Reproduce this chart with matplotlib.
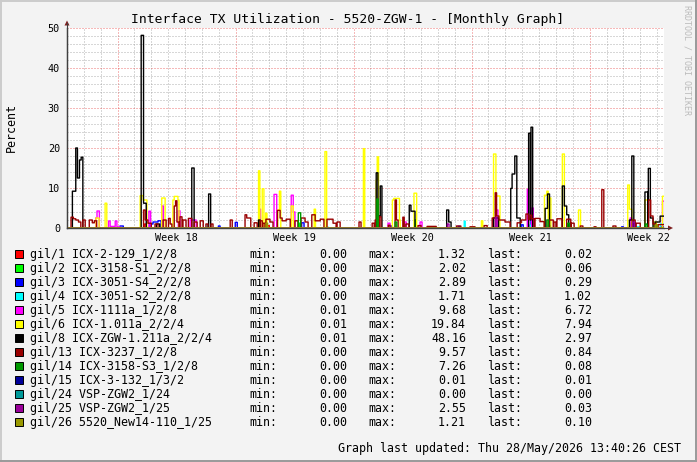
import numpy as np
import matplotlib
matplotlib.use("Agg")
import matplotlib.pyplot as plt
from matplotlib.lines import Line2D
from matplotlib.patches import Polygon, Rectangle
from matplotlib.ticker import MultipleLocator, FixedLocator

plt.rcParams["font.family"] = ["DejaVu Sans Mono"]

W, H = 697, 462
T_END = 35.41  # days on the x axis

title = "Interface TX Utilization - 5520-ZGW-1 - [Monthly Graph]"
week_bounds = [3, 10, 17, 24, 31]
week_label_pos = [6.5, 13.5, 20.5, 27.5, 34.5]
week_labels = ["Week 18", "Week 19", "Week 20", "Week 21", "Week 22"]
y_ticks = [0, 10, 20, 30, 40, 50]

labels = ["gil/1 ICX-2-129_1/2/8", "gil/2 ICX-3158-S1_2/2/8", "gil/3 ICX-3051-S4_2/2/8",
          "gil/4 ICX-3051-S2_2/2/8", "gil/5 ICX-1111a_1/2/8", "gil/6 ICX-1.011a_2/2/4",
          "gil/8 ICX-ZGW-1.211a_2/2/4", "gil/13 ICX-3237_1/2/8", "gil/14 ICX-3158-S3_1/2/8",
          "gil/15 ICX-3-132_1/3/2", "gil/24 VSP-ZGW2_1/24", "gil/25 VSP-ZGW2_1/25",
          "gil/26 5520_New14-110_1/25"]
colors = ["#FF0000", "#00FF00", "#0000FF", "#00FFFF", "#FF00FF", "#FFFF00", "#000000",
          "#990000", "#009900", "#000099", "#009999", "#990099", "#999900"]
mins = ["0.00", "0.00", "0.00", "0.00", "0.01", "0.01", "0.01", "0.00", "0.00", "0.00", "0.00", "0.00", "0.00"]
maxs = ["1.32", "2.02", "2.89", "1.71", "9.68", "19.84", "48.16", "9.57", "7.26", "0.01", "0.00", "2.55", "1.21"]
lasts = ["0.02", "0.06", "0.29", "1.02", "6.72", "7.94", "2.97", "0.84", "0.08", "0.01", "0.00", "0.03", "0.10"]

# (start day, end day, percent); everything else is ~0
seg_gi1_1 = [(4.60, 4.70, 1.0), (11.90, 12.00, 0.6), (18.45, 18.52, 1.32), (27.55, 27.62, 0.8),
             (33.60, 33.70, 0.5), (35.30, 35.41, 0.02)]
seg_gi1_2 = [(13.75, 13.82, 1.2), (20.62, 20.70, 2.02), (28.52, 28.60, 1.5), (34.90, 35.00, 0.8),
             (35.30, 35.41, 0.06)]
seg_gi1_3 = [(3.14, 3.34, 0.5), (4.92, 5.10, 1.0), (5.10, 5.40, 1.5), (5.40, 5.58, 1.8),
             (8.97, 9.07, 0.5), (9.98, 10.10, 1.4), (13.92, 14.06, 1.3), (19.20, 19.30, 0.5),
             (23.20, 23.30, 0.4), (25.40, 25.50, 0.3), (26.93, 27.05, 0.8), (27.52, 27.60, 2.89),
             (28.50, 28.65, 0.6), (32.90, 33.00, 0.3), (33.47, 33.59, 1.2), (35.20, 35.41, 0.29)]
seg_gi1_4 = [(8.29, 8.38, 0.6), (15.40, 15.50, 0.2), (23.55, 23.62, 1.71), (27.40, 27.50, 0.7),
             (33.75, 33.95, 0.3), (35.20, 35.41, 1.02)]
seg_gi1_5 = [(1.70, 1.78, 2.5), (1.78, 1.92, 4.25), (2.45, 2.55, 1.75), (2.55, 2.85, 0.4),
             (2.85, 2.95, 1.75), (2.95, 3.14, 0.3), (4.86, 4.96, 4.2), (5.62, 5.71, 5.5),
             (6.60, 6.70, 4.3), (7.30, 7.65, 2.0), (11.40, 11.48, 4.7), (12.28, 12.44, 8.4),
             (13.29, 13.42, 8.2), (13.42, 13.52, 4.0), (19.04, 19.16, 1.2), (19.99, 20.11, 1.5),
             (20.94, 21.06, 1.5), (25.45, 25.55, 4.5), (27.30, 27.37, 9.68), (27.55, 27.65, 5.0),
             (28.45, 28.60, 2.0), (33.40, 33.50, 2.5), (35.32, 35.41, 6.72)]
seg_gi1_6 = [(1.72, 1.90, 2.5), (2.25, 2.35, 6.2), (4.33, 4.51, 8.1), (4.51, 4.73, 7.0),
             (5.62, 5.81, 7.5), (6.27, 6.35, 7.0), (6.35, 6.58, 7.9), (6.58, 6.64, 7.0),
             (11.36, 11.43, 14.3), (11.58, 11.67, 9.8), (11.78, 11.86, 3.7), (12.50, 12.59, 4.5),
             (12.59, 12.67, 9.2), (13.30, 13.42, 5.5), (14.65, 14.73, 4.7), (15.30, 15.40, 19.1),
             (17.57, 17.66, 19.84), (18.33, 18.39, 12.0), (18.39, 18.47, 17.8), (19.29, 19.37, 7.0),
             (19.37, 19.71, 7.4), (19.71, 19.75, 2.0), (20.58, 20.74, 8.7), (24.57, 24.65, 1.8),
             (25.29, 25.43, 18.5), (25.43, 25.68, 8.0), (28.31, 28.45, 8.2), (28.45, 28.53, 9.2),
             (28.60, 28.70, 7.5), (29.38, 29.50, 18.5), (30.33, 30.45, 4.5), (33.26, 33.36, 10.75),
             (33.36, 33.50, 4.7), (34.28, 34.48, 7.0), (34.80, 34.95, 1.5), (35.31, 35.41, 7.94)]
seg_gi1_8 = [(0.31, 0.52, 9.2), (0.52, 0.61, 20.0), (0.61, 0.73, 12.5), (0.73, 0.83, 17.0),
             (0.83, 0.93, 17.7), (4.40, 4.53, 48.16), (4.53, 4.69, 6.2), (5.30, 5.50, 1.0),
             (7.40, 7.53, 15.0), (8.40, 8.52, 8.5), (11.35, 11.45, 2.0), (18.33, 18.43, 13.8),
             (18.43, 18.57, 3.0), (18.57, 18.67, 10.5), (20.30, 20.39, 5.7), (20.39, 20.64, 4.2),
             (22.52, 22.64, 4.5), (22.64, 22.78, 1.5), (25.30, 25.60, 2.5), (26.32, 26.39, 9.9),
             (26.39, 26.55, 13.5), (26.55, 26.67, 18.0), (26.67, 26.87, 2.5), (27.37, 27.47, 23.7),
             (27.47, 27.52, 2.0), (27.52, 27.62, 25.2), (28.35, 28.49, 4.9), (28.49, 28.61, 8.5),
             (29.38, 29.50, 10.5), (29.50, 29.64, 5.5), (29.64, 29.75, 3.3), (33.35, 33.49, 2.0),
             (33.49, 33.61, 18.0), (34.28, 34.46, 9.0), (34.48, 34.60, 14.9), (34.60, 34.76, 2.5),
             (34.88, 35.17, 1.5), (35.17, 35.41, 2.97)]
seg_gi1_13 = [(0.24, 0.37, 2.7), (0.37, 0.52, 2.3), (0.52, 0.67, 2.0), (0.67, 0.81, 1.5),
              (0.93, 1.07, 2.0), (1.32, 1.50, 2.0), (1.50, 1.62, 1.3), (1.62, 1.76, 1.8),
              (4.53, 4.63, 4.5), (4.63, 4.80, 2.0), (4.80, 5.00, 1.2), (5.22, 5.40, 1.0),
              (5.69, 5.87, 2.0), (6.01, 6.11, 2.4), (6.11, 6.22, 1.0), (6.36, 6.43, 5.5),
              (6.43, 6.51, 6.8), (6.51, 6.64, 1.5), (6.70, 6.82, 2.8), (6.88, 7.06, 2.0),
              (7.19, 7.40, 2.4), (7.53, 7.71, 1.5), (7.89, 8.08, 1.8), (8.24, 8.36, 1.0),
              (8.54, 8.66, 1.0), (9.67, 9.80, 2.0), (10.56, 10.65, 3.3), (10.65, 10.90, 2.5),
              (11.09, 11.27, 1.3), (11.45, 11.57, 1.8), (11.62, 11.74, 1.2), (11.80, 12.04, 2.2),
              (12.04, 12.22, 1.5), (12.47, 12.63, 4.4), (12.63, 12.75, 2.5), (12.75, 12.99, 1.8),
              (12.99, 13.23, 2.2), (13.52, 13.70, 1.8), (13.88, 14.12, 2.5), (14.12, 14.29, 1.5),
              (14.51, 14.71, 3.3), (14.71, 15.01, 1.8), (15.01, 15.24, 2.2), (15.42, 15.78, 2.2),
              (15.78, 15.96, 1.2), (16.01, 16.19, 1.5), (17.32, 17.44, 1.5), (18.09, 18.21, 1.2),
              (18.27, 18.45, 2.0), (18.51, 18.62, 2.8), (19.05, 19.15, 0.7), (19.45, 19.54, 7.0),
              (19.54, 19.63, 2.0), (19.91, 20.00, 2.7), (20.10, 20.28, 1.0), (20.82, 21.00, 0.6),
              (21.35, 21.89, 0.4), (23.10, 23.35, 0.5), (23.90, 24.20, 0.3), (24.73, 24.91, 0.6),
              (25.21, 25.40, 2.5), (25.40, 25.48, 8.8), (25.48, 25.62, 3.0), (25.62, 25.98, 2.0),
              (25.98, 26.28, 1.5), (26.70, 26.93, 1.3), (26.93, 27.22, 2.0), (27.22, 27.35, 3.5),
              (27.35, 27.45, 2.2), (27.45, 27.55, 3.2), (27.55, 27.70, 2.3), (27.76, 28.05, 2.4),
              (28.05, 28.29, 1.6), (28.59, 28.83, 2.0), (28.88, 29.00, 1.5), (29.06, 29.36, 2.3),
              (29.63, 29.87, 2.2), (29.89, 30.07, 1.2), (30.43, 30.60, 0.5), (31.26, 31.38, 0.3),
              (31.71, 31.83, 9.57), (32.38, 32.55, 0.5), (33.51, 33.69, 2.0), (33.75, 33.99, 1.2),
              (34.49, 34.61, 7.0), (34.61, 34.76, 3.0), (34.76, 34.94, 1.0), (35.05, 35.41, 0.84)]
seg_gi1_14 = [(13.72, 13.86, 3.8), (18.38, 18.46, 7.26), (19.45, 19.55, 1.5), (28.45, 28.55, 2.0),
              (29.70, 29.80, 1.2), (34.30, 34.40, 1.0), (35.30, 35.41, 0.08)]
seg_gi1_15 = [(35.30, 35.41, 0.01)]
seg_gi1_24 = []
seg_gi1_25 = [(22.55, 22.65, 1.0), (25.40, 25.50, 2.55), (33.55, 33.65, 1.5), (35.30, 35.41, 0.03)]
seg_gi1_26 = [(11.80, 11.90, 1.21), (34.90, 35.00, 0.8), (35.30, 35.41, 0.10)]

segments = [seg_gi1_1, seg_gi1_2, seg_gi1_3, seg_gi1_4, seg_gi1_5, seg_gi1_6, seg_gi1_8,
            seg_gi1_13, seg_gi1_14, seg_gi1_15, seg_gi1_24, seg_gi1_25, seg_gi1_26]


def to_series(segs, t):
    v = np.zeros_like(t)
    for t0, t1, val in segs:
        v[(t >= t0) & (t < t1)] = val
    return v


def fx(x):
    return x / W


def fy(y):
    return 1 - y / H


fig = plt.figure(figsize=(W / 100, H / 100), dpi=100, facecolor="#F3F3F3")
ax = fig.add_axes([fx(67), fy(228), (664 - 67) / W, 200 / H])
ax.set_facecolor("white")
for s in ax.spines.values():
    s.set_visible(False)

t = np.arange(0, T_END, 0.02)
for segs, c in zip(segments, colors):
    ax.plot(t, to_series(segs, t), drawstyle="steps-post", color=c, lw=1.0, zorder=3)

ax.set_xlim(0, T_END)
ax.set_ylim(0, 50)
ax.xaxis.set_major_locator(FixedLocator(week_bounds))
ax.xaxis.set_minor_locator(MultipleLocator(1))
ax.yaxis.set_major_locator(FixedLocator(y_ticks))
ax.yaxis.set_minor_locator(MultipleLocator(2))
ax.set_xticklabels([])
ax.set_yticklabels([str(v) for v in y_ticks], fontsize=7.3)
ax.tick_params(which="both", length=0)
ax.tick_params(axis="y", pad=5)
ax.grid(which="minor", color="#8F8F8F", alpha=0.7, linestyle=(0, (1, 2)), lw=0.72)
ax.grid(which="major", color="#E00000", alpha=0.55, linestyle=(0, (1, 2)), lw=0.72)
ax.set_axisbelow(True)

for pos, lab in zip(week_label_pos, week_labels):
    ax.text(pos, -0.05, lab, transform=ax.get_xaxis_transform(), ha="center", va="center",
            fontsize=7.3)

# axes with arrows
ax.axhline(0, color="#404040", lw=1.0, zorder=2, clip_on=False)
ax.axvline(0, color="#404040", lw=1.0, zorder=2, clip_on=False)
fig.add_artist(Line2D([fx(67), fx(67)], [fy(228), fy(23)], color="#404040", lw=0.8))
fig.add_artist(Line2D([fx(664), fx(669)], [fy(228), fy(228)], color="#404040", lw=0.8))
fig.add_artist(Polygon([(fx(64.5), fy(25.5)), (fx(69.5), fy(25.5)), (fx(67), fy(20.5))],
                       closed=True, color="#7F1F1F", lw=0))
fig.add_artist(Polygon([(fx(668), fy(225.5)), (fx(668), fy(230.5)), (fx(673), fy(228))],
                       closed=True, color="#7F1F1F", lw=0))

fig.text(fx(348), fy(19), title, ha="center", va="center", fontsize=9.4)
fig.text(fx(11), fy(128), "Percent", rotation=90, ha="center", va="center", fontsize=8.35)
fig.text(fx(687), fy(5), "RRDTOOL / TOBI OETIKER", rotation=270, ha="center", va="top",
         fontsize=6, color="#BBBBBB")

for i, (lab, c) in enumerate(zip(labels, colors)):
    y = 254.3 + 14 * i
    fig.add_artist(Rectangle((fx(15), fy(y + 4)), 8 / W, 8 / H, facecolor=c,
                             edgecolor="black", lw=0.7, transform=fig.transFigure))
    fig.text(fx(30), fy(y), lab, va="center", fontsize=8.35)
    fig.text(fx(249), fy(y), "min:", va="center", fontsize=8.35)
    fig.text(fx(347), fy(y), mins[i], va="center", ha="right", fontsize=8.35)
    fig.text(fx(368), fy(y), "max:", va="center", fontsize=8.35)
    fig.text(fx(466), fy(y), maxs[i], va="center", ha="right", fontsize=8.35)
    fig.text(fx(487), fy(y), "last:", va="center", fontsize=8.35)
    fig.text(fx(592), fy(y), lasts[i], va="center", ha="right", fontsize=8.35)

fig.text(fx(681), fy(448.3), "Graph last updated: Thu 28/May/2026 13:40:26 CEST",
         ha="right", va="center", fontsize=8.35)

# 3d frame like rrdtool
fig.add_artist(Line2D([0, 1], [fy(0.5), fy(0.5)], color="#CBCBCB", lw=1.4))
fig.add_artist(Line2D([fx(0.5), fx(0.5)], [0, 1], color="#CBCBCB", lw=1.4))
fig.add_artist(Line2D([0, 1], [fy(461), fy(461)], color="#999999", lw=1.4))
fig.add_artist(Line2D([fx(696), fx(696)], [0, 1], color="#999999", lw=1.4))

fig.savefig("out.png", dpi=100, facecolor=fig.get_facecolor())
